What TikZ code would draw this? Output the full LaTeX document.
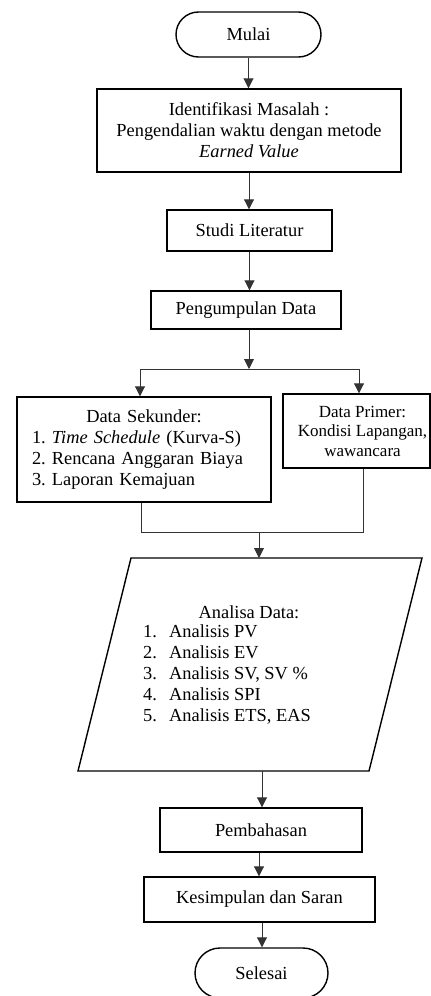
\documentclass[tikz,border=0pt]{standalone}
\usepackage{fontspec}
\setmainfont{Liberation Serif}
\usetikzlibrary{arrows.meta,shapes.misc,calc}
\begin{document}
\frenchspacing
\begin{tikzpicture}[x=1pt,y=-1pt,
  box/.style={draw=black, line width=1.4pt, rectangle, inner sep=0pt, align=center,
              font=\fontsize{18.4}{21}\selectfont},
  term/.style={box, rounded rectangle},
  conn/.style={draw=black!80, line width=0.9pt},
  arr/.style={conn, -{Triangle[length=10pt,width=10pt]}},
  txt/.style={inner sep=0pt, font=\fontsize{18.4}{21}\selectfont, align=left}]
\useasboundingbox (0,0) rectangle (431,996);
\fill[white] (0,0) rectangle (431,996);

\node[term, minimum width=145, minimum height=45] (mulai) at (248.5,34.5) {Mulai};
\node[box, minimum width=304, minimum height=83] (ident) at (249,130.5)
  {Identifikasi Masalah :\\ Pengendalian waktu dengan metode\\ \textit{Earned Value}};
\node[box, minimum width=165, minimum height=41] (studi) at (249.5,230.5) {Studi Literatur};
\node[box, minimum width=190, minimum height=38] (kumpul) at (246,310) {Pengumpulan Data};
\node[box, minimum width=254, minimum height=105, text width=224, align=left] (sek) at (144,449.5)
  {\makebox[\hsize][c]{Data Sekunder:}\\
   1. \textit{Time Schedule} (Kurva-S)\\
   2. Rencana Anggaran Biaya\\
   3. Laporan Kemajuan};
\node[box, minimum width=147, minimum height=74, font=\fontsize{17}{19.5}\selectfont] (prim) at (356.5,431)
  {\hspace*{12pt}Data Primer:\\ \hspace*{12pt}Kondisi Lapangan,\\ \hspace*{12pt}wawancara};

% parallelogram
\draw[line width=1.4pt] (131,558) -- (422,558) -- (369,771) -- (78,771) -- cycle;
\coordinate (ptop) at (259,558);
\coordinate (pbot) at (262,771);
\node[txt] (anhead) at (249,612) {Analisa Data:};
\node[txt, anchor=west] (anlist) at (143,675)
  {\begin{tabular}{@{}l@{}}
   \makebox[26pt][l]{1.}Analisis PV\\
   \makebox[26pt][l]{2.}Analisis EV\\
   \makebox[26pt][l]{3.}Analisis SV, SV \%\\
   \makebox[26pt][l]{4.}Analisis SPI\\
   \makebox[26pt][l]{5.}Analisis ETS, EAS
   \end{tabular}};

\node[box, minimum width=202, minimum height=44] (pemb) at (261,830) {Pembahasan};
\node[box, minimum width=231, minimum height=45] (kesim) at (259.5,899.5) {Kesimpulan dan Saran};
\node[term, minimum width=133, minimum height=50] (selesai) at (261.5,973) {Selesai};

% connectors
\draw[arr] (mulai.south) -- (mulai.south |- ident.north);
\draw[arr] (ident.south) -- (ident.south |- studi.north);
\draw[arr] (studi.south) -- (studi.south |- kumpul.north);
\coordinate (split) at (249,369);
\coordinate (sL) at (140,369);
\coordinate (sR) at (359,369);
\draw[arr] (kumpul.south -| split) -- (split);
\draw[conn] (sL) -- (sR);
\draw[arr] (sL) -- (sL |- sek.north);
\draw[arr] (sR) -- (sR |- prim.north);
\coordinate (mL) at (141,532);
\coordinate (mR) at (363,532);
\coordinate (merge) at (259,532);
\draw[conn] (mL |- sek.south) -- (mL) -- (mR) -- (mR |- prim.south);
\draw[arr] (merge) -- (ptop);
\draw[arr] (pbot) -- (pbot |- pemb.north);
\coordinate (pk) at (259,0);
\coordinate (ks) at (262,0);
\draw[arr] (pk |- pemb.south) -- (pk |- kesim.north);
\draw[arr] (ks |- kesim.south) -- (ks |- selesai.north);
\end{tikzpicture}
\end{document}
